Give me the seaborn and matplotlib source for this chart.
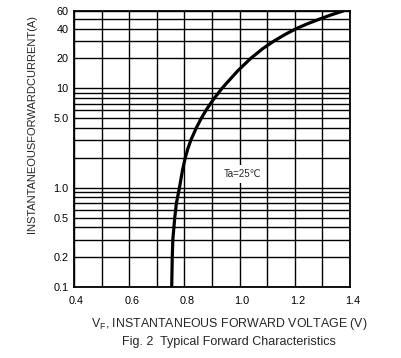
import numpy as np
import matplotlib
matplotlib.use("Agg")
import matplotlib.pyplot as plt
from matplotlib.ticker import NullLocator, FixedLocator
from matplotlib.transforms import ScaledTranslation
import seaborn as sns

# ------------------------------------------------------------
# Data (Ta = 25 C)
# ------------------------------------------------------------
vf = [0.754, 0.756, 0.758, 0.765, 0.771, 0.782, 0.793, 0.803, 0.813, 0.823,
      0.843, 0.861, 0.878, 0.894, 0.909, 0.936, 0.993, 1.040, 1.083, 1.125,
      1.166, 1.206, 1.249, 1.292, 1.333, 1.375]
i_f = [0.1, 0.2, 0.3, 0.5, 0.7, 1.0, 1.5, 2.0, 2.5, 3.0,
       4.0, 5.0, 6.0, 7.0, 8.0, 10.0, 15.0, 20.0, 25.0, 30.0,
       35.0, 40.0, 45.0, 50.0, 55.0, 60.0]

y_grid = [0.1, 0.2, 0.3, 0.4, 0.5, 0.6, 0.7, 0.8, 0.9,
          1, 2, 3, 4, 5, 6, 7, 8, 9, 10, 20, 30, 40, 50, 60]
y_labels = {0.1: "0.1", 0.2: "0.2", 0.5: "0.5", 1: "1.0", 5: "5.0",
            10: "10", 20: "20", 40: "40", 60: "60"}
x_grid = [0.4, 0.5, 0.6, 0.7, 0.8, 0.9, 1.0, 1.1, 1.2, 1.3, 1.4]
x_labels = {0.4: "0.4", 0.6: "0.6", 0.8: "0.8", 1.0: "1.0", 1.2: "1.2", 1.4: "1.4"}

# ------------------------------------------------------------
# Style
# ------------------------------------------------------------
sns.set_theme(style="white")
plt.rcParams['font.family'] = ['Liberation Sans', 'DejaVu Sans']
plt.rcParams['mathtext.fontset'] = 'custom'
plt.rcParams['mathtext.rm'] = 'Liberation Sans'

fig = plt.figure(figsize=(4.02, 3.58), dpi=100)
ax = fig.add_axes([74 / 402, 1 - 287.3 / 358, 276 / 402, 276.3 / 358])

sns.lineplot(x=vf, y=i_f, ax=ax, color='black', linewidth=2.3,
             estimator=None, sort=False, zorder=5)

ax.set_yscale('log')
ax.set_xlim(0.4, 1.4)
ax.set_ylim(0.1, 60)

ax.yaxis.set_major_locator(FixedLocator(y_grid))
ax.yaxis.set_minor_locator(NullLocator())
ax.set_yticklabels([y_labels.get(v, "") for v in y_grid])
ax.xaxis.set_major_locator(FixedLocator(x_grid))
ax.set_xticklabels([x_labels.get(round(v, 1), "") for v in x_grid])

ax.grid(True, which='major', color='black', linewidth=1.0)
ax.tick_params(axis='both', length=0, labelsize=7.8, colors='black')
ax.tick_params(axis='y', pad=4)
ax.tick_params(axis='x', pad=6)
shift = ScaledTranslation(2.5 / 100, 0, fig.dpi_scale_trans)
for lab in ax.get_xticklabels():
    lab.set_transform(lab.get_transform() + shift)
for s in ax.spines.values():
    s.set_color('black')
    s.set_linewidth(1.3)

ax.text(1.01, 1.38, "Ta=25℃", fontsize=7, ha='center', va='center',
        bbox=dict(facecolor='white', edgecolor='none', pad=3), zorder=4)

fig.text(32 / 402, 1 - 124 / 358, "INSTANTANEOUSFORWARDCURRENT(A)",
         rotation=90, ha='center', va='center', fontsize=8)
fig.text(229 / 402, 1 - 324.5 / 358,
         r"V$_\mathrm{F}$, INSTANTANEOUS FORWARD VOLTAGE (V)",
         ha='center', va='center', fontsize=8.9)
fig.text(229 / 402, 1 - 342.5 / 358, "Fig. 2  Typical Forward Characteristics",
         ha='center', va='center', fontsize=9)

fig.savefig('out.png', dpi=100)
